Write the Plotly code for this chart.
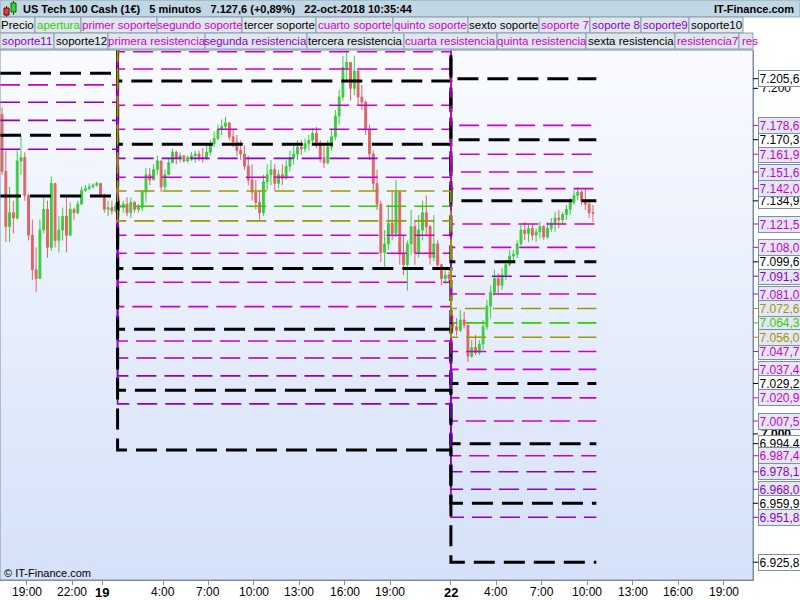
import plotly.graph_objects as go

# ---------------- data ----------------
# compressed time axis (hours); session starts
session_starts = [17.25, 25.0, 47.0]

s18_high = [7189, 7164, 7143, 7135, 7164, 7173, 7163, 7139, 7124, 7108, 7124, 7137, 7135, 7149, 7145, 7126,
            7131, 7137, 7134, 7131, 7135, 7143, 7144, 7145, 7145, 7146, 7145, 7139, 7135, 7135, 7134]
s18_low = [7150, 7111, 7111, 7116, 7124, 7150, 7135, 7112, 7089, 7082, 7090, 7116, 7102, 7106, 7108, 7105,
           7112, 7105, 7115, 7124, 7127, 7133, 7140, 7141, 7142, 7143, 7137, 7128, 7126, 7127, 7128]
s18_close = [7152, 7120, 7128, 7125, 7158, 7160, 7138, 7115, 7095, 7090, 7118, 7130, 7108, 7145, 7112, 7118,
             7126, 7115, 7130, 7128, 7133, 7141, 7142, 7143, 7144, 7145, 7138, 7130, 7131, 7129, 7132]

s19_high = [7135, 7135, 7137, 7137, 7135, 7133, 7141, 7154, 7154, 7156, 7161, 7158, 7153, 7159, 7165, 7164,
            7163, 7161, 7161, 7163, 7164, 7164, 7165.5, 7167, 7170, 7175, 7179, 7182, 7183.5, 7180.5, 7176, 7173,
            7170, 7167, 7161, 7156, 7147, 7141, 7150, 7156, 7158.6, 7156, 7153, 7156, 7158.6, 7164, 7167, 7170,
            7170, 7171, 7173, 7177, 7177.6, 7170, 7167, 7170, 7176, 7187.5, 7199, 7219, 7224, 7215, 7219, 7211,
            7202, 7193, 7179, 7164, 7153, 7135, 7118, 7132.5, 7141, 7147, 7140, 7115, 7112, 7129.6, 7124, 7126.7,
            7135, 7138, 7121, 7126.7, 7112, 7098, 7095, 7094]
s19_low = [7129, 7128, 7126, 7125, 7128, 7128, 7129, 7134, 7144, 7147, 7150, 7140, 7141, 7150, 7157, 7156,
           7157, 7157, 7157, 7158, 7157, 7158, 7157, 7158.6, 7161, 7166, 7170, 7173, 7176, 7170, 7166, 7161,
           7158.6, 7153, 7144, 7135, 7130, 7124, 7126, 7141, 7144, 7141, 7142, 7144, 7147, 7152, 7155.7, 7158.6,
           7161.5, 7163, 7164, 7167, 7165.5, 7157, 7154, 7156, 7164, 7170, 7179, 7193, 7205, 7193, 7196, 7190,
           7187.5, 7173, 7158.6, 7141, 7129.6, 7099.5, 7096, 7106.5, 7112, 7114, 7098, 7092, 7083, 7103.6, 7098, 7102,
           7112, 7115, 7098, 7100, 7095, 7086, 7087, 7088]
s19_close = [7131, 7133, 7128, 7134, 7130, 7131, 7140, 7150, 7147, 7153, 7158, 7143, 7150, 7157, 7163, 7160,
             7161, 7158, 7160, 7161, 7162, 7160, 7160, 7163, 7168, 7171, 7176, 7178, 7180, 7172, 7169, 7164,
             7162, 7155, 7147, 7140, 7134, 7128, 7146, 7150, 7153, 7145, 7150, 7148, 7155, 7160, 7162, 7166,
             7165, 7168, 7170, 7174, 7168, 7160, 7157, 7166, 7172, 7184, 7195, 7212, 7215, 7200, 7210, 7195,
             7192, 7176, 7162, 7145, 7133, 7105, 7110, 7122, 7116, 7140, 7104, 7098, 7110, 7120, 7105, 7118,
             7128, 7120, 7102, 7110, 7098, 7090, 7092, 7090]

s22_high = [7068.9, 7067, 7071.8, 7070.6, 7063, 7054.4, 7057.3, 7054.4, 7066, 7077.5, 7086, 7095, 7093, 7096,
            7100.7, 7106.5, 7106.5, 7112, 7121, 7122.7, 7121, 7121, 7119, 7122.7, 7121, 7122.7, 7125, 7128.5,
            7129.6, 7128.5, 7132.5, 7136.6, 7141, 7143, 7141, 7142, 7135.4, 7132.5]
s22_low = [7058.4, 7057, 7059, 7061, 7041.7, 7044, 7045.7, 7045.7, 7048.6, 7060.2, 7067, 7080.4, 7081.6, 7083.3,
           7089, 7097, 7099.5, 7101.9, 7109, 7112.3, 7111, 7112, 7111, 7113, 7112.3, 7113, 7117, 7117,
           7119, 7121, 7123.8, 7126.7, 7132.5, 7135.4, 7132.5, 7129.6, 7125, 7122.7]
s22_close = [7062, 7060, 7066, 7063, 7045, 7050, 7047, 7052, 7062, 7074, 7082, 7090, 7086, 7092,
             7098, 7103, 7104, 7110, 7118, 7116, 7119, 7115, 7117, 7120, 7114, 7119, 7122, 7125,
             7124, 7127, 7130, 7134, 7138, 7140, 7135, 7133, 7128, 7127.6]
first_open = [7185, 7132, 7064]

level_names = ["apertura", "primer soporte", "segundo soporte", "tercer soporte", "cuarto soporte",
               "quinto soporte", "sexto soporte", "soporte 7", "soporte 8", "soporte9", "soporte10",
               "soporte11", "soporte12", "primera resistencia", "segunda resistencia", "tercera resistencia",
               "cuarta resistencia", "quinta resistencia", "sexta resistencia", "resistencia7", "resistencia8",
               "resistencia9", "resistencia10", "resistencia11", "resistencia12", "pivote alto", "pivote bajo"]
level_kind = ["open", "mag", "mag", "blk", "mag", "mag", "blk", "mag", "pur", "pur", "blk", "pur", "blk",
              "mag", "pur", "blk", "mag", "mag", "blk", "mag", "mag", "mag", "blk", "mag", "blk", "olv", "olv"]
lvl_18 = [7281.0, 7264.0, 7253.5, 7244.8, 7236.4, 7224.0, 7208.7, 7202.0, 7192.0, 7181.5, 7172.9, 7164.8, 7137.7,
          7298.0, 7309.0, 7317.0, 7326.0, 7340.0, 7354.0, 7361.0, 7371.0, 7382.0, 7391.0, 7399.0, 7427.0,
          7289.6, 7272.4]
lvl_19 = [7131.8, 7115.0, 7104.6, 7095.7, 7087.8, 7073.7, 7060.6, 7053.8, 7044.0, 7033.6, 7025.3, 7017.4, 6990.7,
          7148.6, 7159.5, 7167.6, 7176.3, 7190.2, 7204.3, 7211.2, 7221.2, 7231.5, 7240.0, 7248.3, 7275.9,
          7140.6, 7123.3]
lvl_22 = [7064.3, 7047.7, 7037.4, 7029.2, 7020.9, 7007.5, 6994.4, 6987.4, 6978.1, 6968.0, 6959.9, 6951.8, 6925.8,
          7081.0, 7091.3, 7099.6, 7108.0, 7121.5, 7134.9, 7142.0, 7151.6, 7161.9, 7170.3, 7178.6, 7205.6,
          7072.6, 7056.0]

tick_vals = [19, 22, 24, 28, 31, 34, 37, 40, 43, 47, 50, 53, 56, 59, 62, 65]
tick_text = ["19:00", "22:00", "<b>19</b>", "4:00", "7:00", "10:00", "13:00", "16:00", "19:00",
             "<b>22</b>", "4:00", "7:00", "10:00", "13:00", "16:00", "19:00"]

# ---------------- styling ----------------
W, H = 800, 600
PL, PR, PT, PB = 0, 753, 50, 580
X_RANGE = [17.24, 66.94]
Y_RANGE = [6915.5, 7222.2]
LINE_END = 56.6
FONT = "Liberation Sans, Arial, sans-serif"
COL = {"mag": "#cc00cc", "pur": "#8a00cc", "blk": "#000000", "olv": "#999900", "open": "#33cc00"}


def XP(px):
    return (px - PL) / (PR - PL)


def YP(py):
    return (PB - py) / (PB - PT)


fig = go.Figure()

# level step lines
for name, kind, a, b, c in zip(level_names, level_kind, lvl_18, lvl_19, lvl_22):
    if kind == "blk":
        ln = dict(color=COL[kind], width=3, dash="21px,9px", shape="hv")
    else:
        ln = dict(color=COL[kind], width=1.6, dash="20px,8px", shape="hv")
    fig.add_trace(go.Scatter(x=[X_RANGE[0], session_starts[1], session_starts[2], LINE_END],
                             y=[a, b, c, c], mode="lines", line=ln, name=name,
                             showlegend=False, hoverinfo="skip"))

# candles
xs, op, hi, lo, cl = [], [], [], [], []
for s0, fo, hh, ll, cc in zip(session_starts, first_open,
                              [s18_high, s19_high, s22_high],
                              [s18_low, s19_low, s22_low],
                              [s18_close, s19_close, s22_close]):
    prev = fo
    for i, (h_, l_, c_) in enumerate(zip(hh, ll, cc)):
        xs.append(s0 + 0.25 * i + 0.125)
        op.append(prev)
        hi.append(max(h_, prev, c_))
        lo.append(min(l_, prev, c_))
        cl.append(c_)
        prev = c_
fig.add_trace(go.Candlestick(x=xs, open=op, high=hi, low=lo, close=cl, name="Precio",
                             increasing=dict(line=dict(color="#3ccc3c", width=1), fillcolor="#3ccc3c"),
                             decreasing=dict(line=dict(color="#e06464", width=1), fillcolor="#e06464"),
                             whiskerwidth=0, showlegend=False, hoverinfo="skip"))

shapes = []
annotations = []

# gradient background of plot area
N = 53
c0, c1 = (249, 251, 255), (213, 225, 249)
for i in range(N):
    t = i / (N - 1)
    col = "rgb(%d,%d,%d)" % tuple(round(c0[k] + (c1[k] - c0[k]) * t) for k in range(3))
    y0 = PT + i * (PB - PT) / N
    y1 = PT + (i + 1) * (PB - PT) / N + 0.6
    shapes.append(dict(type="rect", xref="paper", yref="paper", x0=0, x1=1, y0=YP(y1), y1=YP(y0),
                       fillcolor=col, line=dict(width=0), layer="below"))

# title bar
shapes.append(dict(type="rect", xref="paper", yref="paper", x0=XP(0), x1=XP(800), y0=YP(17), y1=YP(0),
                   fillcolor="#c2d7e4", line=dict(color="#8fa6b6", width=1)))
# icon
shapes += [
    dict(type="line", xref="paper", yref="paper", x0=XP(6.5), x1=XP(6.5), y0=YP(17), y1=YP(6), line=dict(color="#600", width=1)),
    dict(type="rect", xref="paper", yref="paper", x0=XP(4), x1=XP(9), y0=YP(15), y1=YP(8), fillcolor="#e04040", line=dict(color="#600", width=1)),
    dict(type="line", xref="paper", yref="paper", x0=XP(13.5), x1=XP(13.5), y0=YP(15), y1=YP(1), line=dict(color="#060", width=1)),
    dict(type="rect", xref="paper", yref="paper", x0=XP(11), x1=XP(16), y0=YP(12), y1=YP(3), fillcolor="#40d040", line=dict(color="#060", width=1)),
]
annotations.append(dict(xref="paper", yref="paper", x=XP(21), y=YP(9), xanchor="left", yanchor="middle",
                        showarrow=False, font=dict(family=FONT, size=11, color="#000"),
                        text="<b>US Tech 100 Cash (1€)   5 minutos   7.127,6 (+0,89%)   22-oct-2018 10:35:44</b>"))
annotations.append(dict(xref="paper", yref="paper", x=XP(796), y=YP(9), xanchor="right", yanchor="middle",
                        showarrow=False, font=dict(family=FONT, size=11, color="#000"),
                        text="<b>IT-Finance.com</b>"))

# legend boxes
kind_of = dict(zip(level_names, level_kind))
row1 = [("Precio", 0, 35), ("apertura", 35, 81), ("primer soporte", 81, 157), ("segundo soporte", 157, 242),
        ("tercer soporte", 242, 316), ("cuarto soporte", 316, 393), ("quinto soporte", 393, 468),
        ("sexto soporte", 468, 539), ("soporte 7", 539, 590), ("soporte 8", 590, 641), ("soporte9", 641, 689),
        ("soporte10", 689, 743)]
row2 = [("soporte11", 0, 54), ("soporte12", 54, 108), ("primera resistencia", 108, 205),
        ("segunda resistencia", 205, 307), ("tercera resistencia", 307, 404), ("cuarta resistencia", 404, 497),
        ("quinta resistencia", 497, 586), ("sexta resistencia", 586, 675), ("resistencia7", 675, 739),
        ("resistencia8", 739, 753)]
for row, (ytop, ybot) in ((row1, (17, 33)), (row2, (33, 49))):
    for nm, a, b in row:
        col = "#000000" if nm == "Precio" else COL[kind_of[nm]]
        shapes.append(dict(type="rect", xref="paper", yref="paper", x0=XP(a), x1=XP(b), y0=YP(ybot), y1=YP(ytop),
                           fillcolor="#dfe7ee", line=dict(color="#8a9dad", width=1)))
        if b == 753 and nm == "resistencia8":
            annotations.append(dict(xref="paper", yref="paper", x=XP(a + 1), y=YP((ytop + ybot) / 2),
                                    xanchor="left", yanchor="middle", showarrow=False,
                                    font=dict(family=FONT, size=11.5, color=col), text="res"))
        else:
            annotations.append(dict(xref="paper", yref="paper", x=XP((a + b) / 2), y=YP((ytop + ybot) / 2 + 0.5),
                                    xanchor="center", yanchor="middle", showarrow=False,
                                    font=dict(family=FONT, size=11.5, color=col), text=nm))

# plot frame
shapes.append(dict(type="rect", xref="paper", yref="paper", x0=0, x1=1, y0=0, y1=1,
                   line=dict(color="#7d8fa0", width=1)))

# x tick labels
for v, t in zip(tick_vals, tick_text):
    annotations.append(dict(xref="x", yref="paper", x=v, y=YP(592), xanchor="center", yanchor="middle",
                            showarrow=False, font=dict(family=FONT, size=13 if "<b>" in t else 12, color="#000"),
                            text=t))

# right axis: round ticks
for v, t in ((7200, "7.200"), (7000, "<b>7.000</b>")):
    annotations.append(dict(xref="paper", yref="y", x=1, xshift=6, y=v, xanchor="left", yanchor="middle",
                            showarrow=False, font=dict(family=FONT, size=12, color="#000"), text=t))
    shapes.append(dict(type="line", xref="paper", yref="y", x0=1, x1=XP(758), y0=v, y1=v,
                       line=dict(color="#000", width=1)))

# right axis: current level labels
def fmt(v):
    s = "%.1f" % v
    ip, dp = s.split(".")
    return ip[0] + "." + ip[1:] + "," + dp

for kind, v in zip(level_kind, lvl_22):
    col = COL[kind]
    shapes.append(dict(type="line", xref="paper", yref="y", x0=1, x1=XP(758), y0=v, y1=v,
                       line=dict(color=col, width=1)))
    annotations.append(dict(xref="paper", yref="y", x=XP(758), y=v, xanchor="left", yanchor="middle",
                            showarrow=False, font=dict(family=FONT, size=12, color=col), text=fmt(v),
                            bgcolor="#ffffff" if kind == "blk" else "#e3e7f6",
                            bordercolor="#7d8fa0", borderwidth=1, borderpad=0.5))

annotations.append(dict(xref="paper", yref="paper", x=XP(2), y=YP(573), xanchor="left", yanchor="middle",
                        showarrow=False, font=dict(family=FONT, size=11, color="#000"),
                        text="© IT-Finance.com"))

fig.update_layout(
    width=W, height=H,
    margin=dict(l=PL, r=W - PR, t=PT, b=H - PB, pad=0, autoexpand=False),
    paper_bgcolor="#ffffff", plot_bgcolor="rgba(0,0,0,0)",
    showlegend=False,
    shapes=shapes, annotations=annotations,
    xaxis=dict(range=X_RANGE, tickvals=tick_vals, showticklabels=False, ticks="outside", ticklen=4,
               tickcolor="#7d8fa0", showgrid=False, zeroline=False, showline=True, linecolor="#7d8fa0",
               rangeslider=dict(visible=False), automargin=False),
    yaxis=dict(range=Y_RANGE, side="right", showticklabels=False, ticks="", showgrid=False,
               zeroline=False, showline=True, linecolor="#7d8fa0", automargin=False),
    font=dict(family=FONT),
)

fig.write_html("out.html", config={"displayModeBar": False},
               post_script="document.body.style.margin='0px';document.body.style.overflow='hidden';")
